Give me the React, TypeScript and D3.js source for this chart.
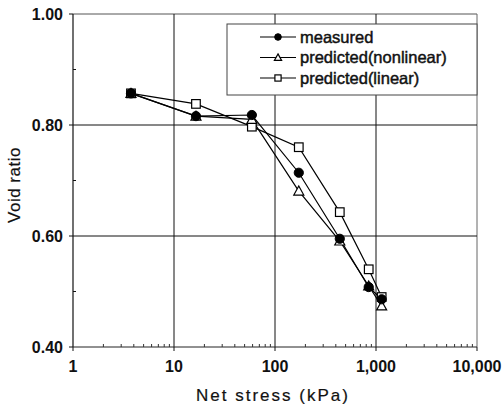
import React from "react";
import * as d3 from "d3";

const stress = [3.75, 16.5, 59, 172, 438, 847, 1138];
const measured = [0.857, 0.816, 0.818, 0.714, 0.595, 0.508, 0.486];
const nonlinear = [0.857, 0.816, 0.81, 0.681, 0.591, 0.51, 0.474];
const linear = [0.857, 0.838, 0.797, 0.76, 0.643, 0.54, 0.49];
const xTicks = [1, 10, 100, 1000, 10000];
const yTicks = [0.4, 0.6, 0.8, 1.0];
const yMinor = [0.5, 0.7, 0.9];
const seriesNames = ["measured", "predicted(nonlinear)", "predicted(linear)"];

const W = 504, H = 407;
const L = 73, R = 477, T = 14, B = 347;
const FONT = "'Liberation Sans', Arial, sans-serif";

function Marker({ kind, x, y, scale = 1 }: { kind: number; x: number; y: number; scale?: number }) {
  if (kind === 0) return <circle cx={x} cy={y} r={4.6 * scale} fill="#000" stroke="#000" />;
  if (kind === 1) {
    const s = 5 * scale;
    return (
      <path
        d={`M${x},${y - s}L${x + s},${y + s * 0.8}L${x - s},${y + s * 0.8}Z`}
        fill="#fff"
        stroke="#000"
        strokeWidth={1.2}
      />
    );
  }
  const h = 4.3 * scale;
  return <rect x={x - h} y={y - h} width={2 * h} height={2 * h} fill="#fff" stroke="#000" strokeWidth={1.2} />;
}

export default function App() {
  const x = d3.scaleLog().domain([1, 10000]).range([L, R]);
  const y = d3.scaleLinear().domain([0.4, 1.0]).range([B, T]);
  const line = d3
    .line<number>()
    .x((_, i) => x(stress[i]))
    .y((d) => y(d));
  const all = [measured, nonlinear, linear];
  const markerOrder = [2, 1, 0];
  const minorX: number[] = [];
  for (let p = 0; p < 4; p++) for (let m = 2; m <= 9; m++) minorX.push(m * Math.pow(10, p));
  const fmt = d3.format(",");

  return (
    <svg width={W} height={H} style={{ position: "absolute", left: 0, top: 0, background: "#fff" }} fontFamily={FONT}>
      <rect x={0} y={0} width={W} height={H} fill="#fff" />
      {/* frame */}
      <line x1={L} x2={R} y1={T} y2={T} stroke="#555" strokeWidth={1} />
      <line x1={R} x2={R} y1={T} y2={B} stroke="#666" strokeWidth={1} />
      {/* grid */}
      {[0.6, 0.8].map((v) => (
        <line key={v} x1={L} x2={R} y1={y(v)} y2={y(v)} stroke="#111" strokeWidth={1} />
      ))}
      {[10, 100, 1000].map((v) => (
        <line key={v} x1={x(v)} x2={x(v)} y1={T} y2={B} stroke="#111" strokeWidth={1} />
      ))}
      {/* axes */}
      <line x1={L} x2={L} y1={T} y2={B} stroke="#111" strokeWidth={1.2} />
      <line x1={L} x2={R} y1={B} y2={B} stroke="#222" strokeWidth={1} />
      {yTicks.map((v) => (
        <g key={v}>
          <line x1={L - 4} x2={L} y1={y(v)} y2={y(v)} stroke="#111" />
          <text x={L - 10} y={y(v)} dy="0.36em" textAnchor="end" fontSize={16} fontWeight="bold" fill="#111">
            {v.toFixed(2)}
          </text>
        </g>
      ))}
      {yMinor.map((v) => (
        <line key={v} x1={L} x2={L + 3} y1={y(v)} y2={y(v)} stroke="#111" />
      ))}
      {xTicks.map((v) => (
        <g key={v}>
          <line x1={x(v)} x2={x(v)} y1={B} y2={B + 4} stroke="#111" />
          <text x={x(v)} y={B + 25} textAnchor="middle" fontSize={16} fontWeight="bold" fill="#111">
            {fmt(v)}
          </text>
        </g>
      ))}
      {minorX.map((v) => (
        <line key={v} x1={x(v)} x2={x(v)} y1={B} y2={B - 3} stroke="#333" />
      ))}
      {/* titles */}
      <text x={273} y={401} textAnchor="middle" fontSize={17} letterSpacing={2} fill="#111" stroke="#111" strokeWidth={0.2}>
        Net stress (kPa)
      </text>
      <text
        transform={`translate(20,${185}) rotate(-90)`}
        textAnchor="middle"
        fontSize={17}
        letterSpacing={0.5}
        fill="#111"
        stroke="#111"
        strokeWidth={0.2}
      >
        Void ratio
      </text>
      {/* series */}
      {all.map((s, k) => (
        <path key={k} d={line(s) || ""} fill="none" stroke="#000" strokeWidth={1.2} />
      ))}
      {markerOrder.map((k) => (
        <g key={k}>
          {all[k].map((v, i) => (
            <Marker key={i} kind={k} x={x(stress[i])} y={y(v)} />
          ))}
        </g>
      ))}
      {/* legend */}
      <rect x={227} y={24} width={R - 227} height={71} fill="#fff" stroke="#444" strokeWidth={1} />
      {seriesNames.map((n, i) => {
        const ly = 37 + i * 20.5;
        return (
          <g key={n}>
            <line x1={260} x2={296} y1={ly} y2={ly} stroke="#000" strokeWidth={1.2} />
            <Marker kind={i} x={278} y={ly} scale={0.72} />
            <text x={300} y={ly} dy="0.35em" fontSize={16.5} fill="#111" stroke="#111" strokeWidth={0.45}>
              {n}
            </text>
          </g>
        );
      })}
    </svg>
  );
}
